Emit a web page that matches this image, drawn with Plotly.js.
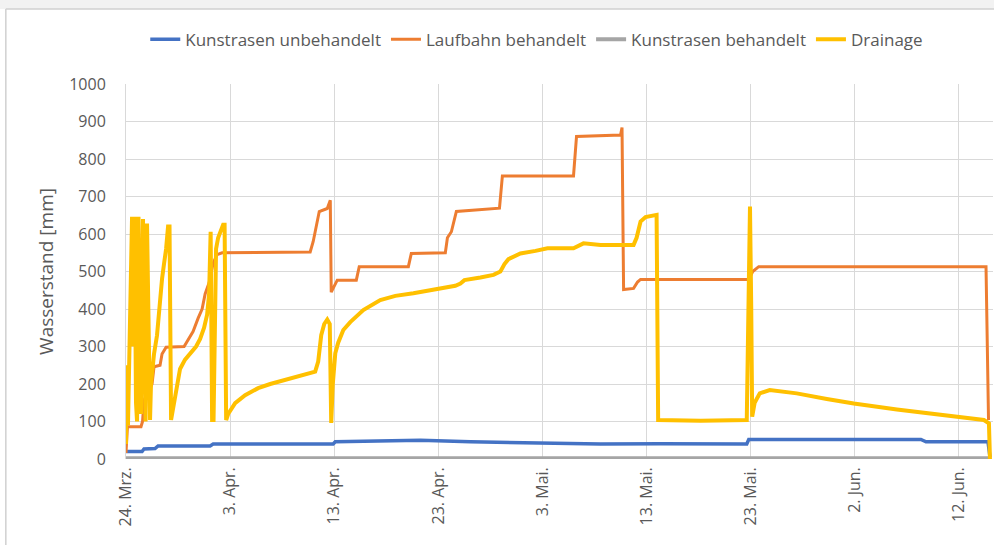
<!DOCTYPE html>
<html>
<head>
<meta charset="utf-8">
<script src="https://cdn.plot.ly/plotly-3.0.1.min.js"></script>
<style>html,body{margin:0;padding:0;background:#fff;}#chart{width:994px;height:545px;}</style>
</head>
<body>
<div id="chart"></div>
<script>
// x values: days since 24. Mrz.
const tickDays = [0, 10, 20, 30, 40, 50, 60, 70, 80];
const tickLabels = ["24. Mrz.", "3. Apr.", "13. Apr.", "23. Apr.", "3. Mai.", "13. Mai.", "23. Mai.", "2. Jun.", "12. Jun."];

const seriesNames = ["Kunstrasen unbehandelt", "Laufbahn behandelt", "Kunstrasen behandelt", "Drainage"];

const blueDays = [0, 1.54, 1.73, 2.79, 3.08, 8.08, 8.37, 19.90, 20.10, 24.42, 28.27, 33.08, 37.88, 41.73, 45.58, 51.35, 59.62, 59.81, 76.35, 76.83, 82.79, 82.98];
const blueVals = [20, 20, 27, 28, 35, 35, 40, 40, 46, 48, 50, 46, 43, 42, 40, 41, 40, 52, 52, 46, 46, 5];

const orangeDays = [0, 0.14, 1.44, 1.59, 1.73, 2.50, 2.69, 3.27, 3.46, 3.85,
  5.58, 5.96, 6.44, 6.92, 7.31, 7.60, 7.98, 8.37, 8.75, 9.23,
  17.69, 17.98, 18.27, 18.56, 19.33, 19.62, 19.71, 20.10, 20.29, 22.12,
  22.40, 27.12, 27.40, 30.67, 30.87, 31.25, 31.73, 35.87, 36.15, 42.98,
  43.27, 47.50, 47.64, 47.79, 48.75, 49.13, 49.42, 59.81, 60.19, 60.77,
  82.60, 82.84];
const orangeVals = [16, 86, 86, 100, 157, 200, 246, 250, 280, 298,
  300, 318, 340, 375, 400, 440, 470, 522, 545, 550,
  552, 580, 620, 660, 668, 690, 445, 468, 477, 477,
  513, 513, 548, 550, 590, 606, 660, 669, 755, 755,
  860, 864, 884, 452, 455, 472, 479, 479, 500, 513,
  513, 104];

const greyDays = [0, 82.98];
const greyVals = [2, 2];

const yellowDays = [0, 0.05, 0.19, 0.38, 0.58, 0.72, 0.82, 0.96, 1.06, 1.20,
  1.35, 1.44, 1.63, 1.78, 1.88, 2.02, 2.16, 2.31, 2.40, 2.69,
  2.98, 3.17, 3.27, 3.46, 3.65, 3.85, 4.04, 4.18, 4.33, 4.71,
  5.19, 5.67, 6.15, 6.73, 7.12, 7.50, 7.79, 7.98, 8.13, 8.27,
  8.41, 8.65, 8.85, 9.13, 9.33, 9.47, 9.62, 9.81, 10.48, 11.44,
  12.69, 13.85, 15.29, 16.73, 18.17, 18.46, 18.75, 19.04, 19.33, 19.57,
  19.71, 19.86, 20.10, 20.38, 20.87, 21.54, 22.79, 24.42, 25.87, 27.60,
  29.23, 30.77, 31.63, 32.12, 32.50, 34.04, 35.29, 35.96, 36.35, 36.73,
  37.88, 39.33, 40.48, 42.98, 43.46, 43.94, 45.58, 48.75, 49.04, 49.42,
  49.90, 50.96, 51.11, 55.19, 59.62, 59.81, 59.93, 60.05, 60.14, 60.38,
  60.87, 61.83, 63.46, 64.42, 67.31, 69.90, 74.04, 77.88, 82.40, 82.88,
  82.98];
const yellowVals = [40, 250, 90, 420, 646, 300, 646, 150, 100, 646,
  250, 120, 640, 200, 100, 628, 300, 104, 200, 280,
  330, 400, 420, 480, 520, 560, 620, 620, 104, 170,
  240, 265, 282, 300, 320, 350, 385, 440, 606, 104,
  104, 560, 590, 610, 625, 625, 104, 120, 149, 170,
  189, 200, 211, 222, 233, 260, 330, 360, 372, 360,
  96, 200, 282, 310, 344, 365, 397, 424, 435, 442,
  450, 459, 462, 468, 477, 484, 491, 500, 520, 533,
  548, 555, 562, 562, 570, 575, 571, 571, 590, 633,
  645, 651, 104, 102, 104, 400, 673, 400, 113, 150,
  175, 184, 178, 175, 160, 148, 132, 118, 104, 95,
  0];

const base = Date.UTC(2021, 2, 24);
const toDate = d => new Date(base + d * 86400000).toISOString().slice(0, 19);

const colors = ["#4472C4", "#ED7D31", "#A5A5A5", "#FFC000"];
const widths = [3.5, 3, 4, 4];
const xs = [blueDays, orangeDays, greyDays, yellowDays];
const ys = [blueVals, orangeVals, greyVals, yellowVals];

const traces = seriesNames.map((n, i) => ({
  type: "scatter", mode: "lines", name: n,
  x: xs[i].map(toDate), y: ys[i],
  line: {color: colors[i], width: widths[i]},
  hoverinfo: "skip"
}));

const layout = {
  width: 994, height: 545,
  margin: {l: 126, r: 1, t: 84, b: 86, autoexpand: false},
  paper_bgcolor: "#ffffff", plot_bgcolor: "#ffffff",
  font: {family: "Open Sans, sans-serif", color: "#595959", size: 16},
  showlegend: true,
  legend: {orientation: "h", x: 0.54, xanchor: "center", xref: "container",
    y: 0.927, yref: "container", yanchor: "middle",
    font: {size: 17, color: "#595959"}, traceorder: "normal"},
  xaxis: {
    type: "date",
    range: [toDate(0), toDate(83.27)],
    tickvals: tickDays.map(toDate), ticktext: tickLabels,
    tickangle: -90, tickfont: {size: 16, color: "#595959"},
    showgrid: true, gridcolor: "#d9d9d9", gridwidth: 1,
    zeroline: false, showline: false, ticks: "", ticklabelstandoff: 4
  },
  yaxis: {
    range: [0, 1000], dtick: 100, tick0: 0,
    tickfont: {size: 16, color: "#595959"},
    showgrid: true, gridcolor: "#d9d9d9", gridwidth: 1,
    zeroline: false, showline: true, linecolor: "#d9d9d9", linewidth: 1,
    ticks: "", ticklabelstandoff: 16,
    title: {text: "Wasserstand [mm]", font: {size: 19, color: "#595959"}, standoff: 10}
  },
  shapes: [
    {type: "rect", xref: "paper", yref: "paper", x0: -0.2, x1: 1.05, y0: 1.2, y1: 1.5,
      fillcolor: "#f2f2f2", line: {width: 0}, layer: "below"},
    {type: "line", xref: "paper", yref: "paper", x0: -0.1386, x1: 1.05, y0: 1.2, y1: 1.2,
      line: {color: "#d0d0d0", width: 1.5}},
    {type: "line", xref: "paper", yref: "paper", x0: -0.1386, x1: -0.1386, y0: 1.2, y1: -0.3,
      line: {color: "#d0d0d0", width: 1.5}}
  ]
};

Plotly.newPlot("chart", traces, layout, {displayModeBar: false, staticPlot: true});
</script>
</body>
</html>
